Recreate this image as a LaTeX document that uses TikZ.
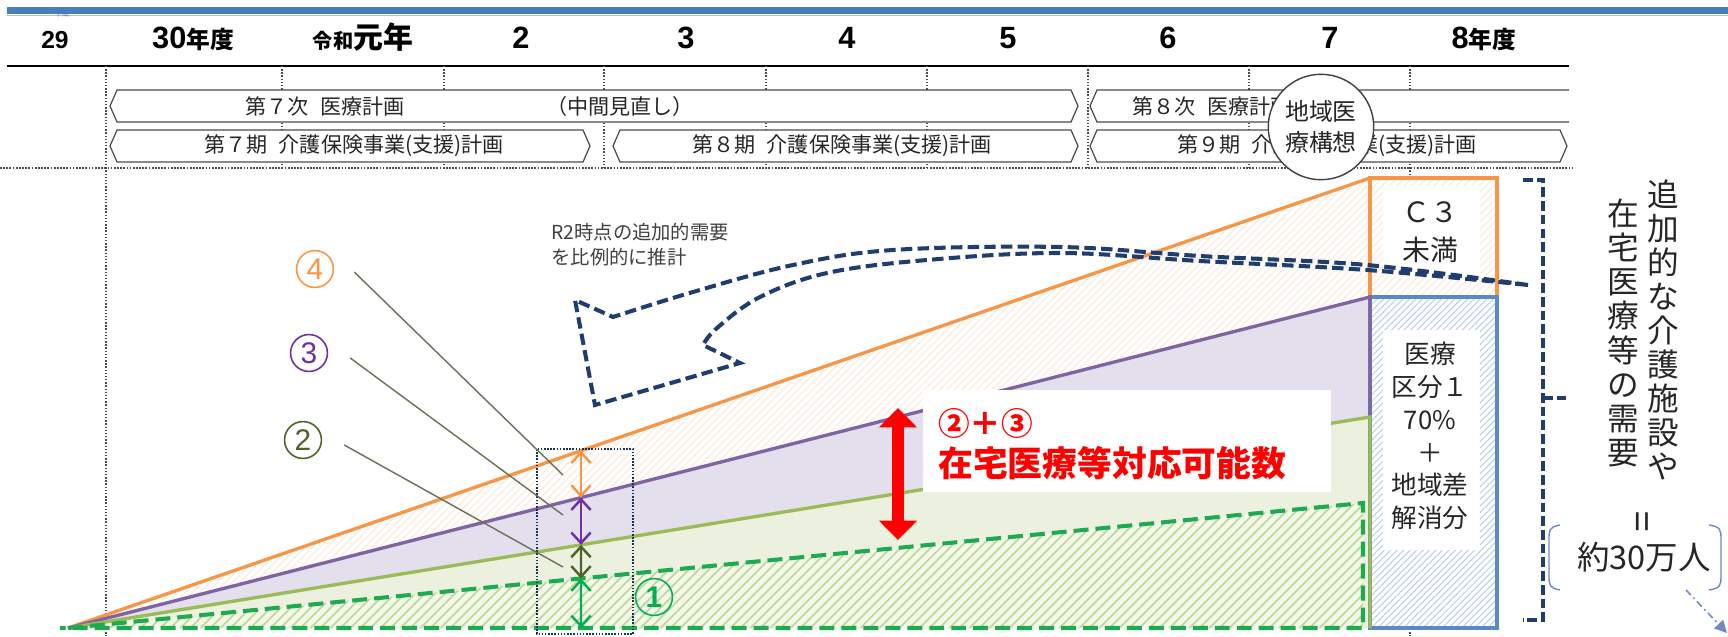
\documentclass[tikz,border=0pt]{standalone}
\usepackage{fontspec}
\setmainfont{Liberation Sans}
\newfontfamily\jp{Noto Sans CJK JP}
\usetikzlibrary{arrows.meta,patterns.meta,calc}
\definecolor{cOrange}{HTML}{F79646}
\definecolor{cPurple}{HTML}{8064A2}
\definecolor{cGreen}{HTML}{9BBB59}
\definecolor{cDash}{HTML}{1EAA50}
\definecolor{cNavy}{HTML}{1F3D6E}
\definecolor{cBlue}{HTML}{5A8AC6}
\definecolor{cBand}{HTML}{4A7EBB}
\definecolor{cBandL}{HTML}{A4C0E4}
\definecolor{cPeach}{HTML}{FBE6D6}
\definecolor{cLav}{HTML}{E4DFEC}
\definecolor{cLGreen}{HTML}{EBF1DE}
\definecolor{cDashBg}{HTML}{F3F8EB}
\definecolor{cHatchG}{HTML}{BFD797}
\definecolor{cHatchB}{HTML}{BCCFE8}
\definecolor{aPurple}{HTML}{7030A0}
\definecolor{aOlive}{HTML}{4F6228}
\definecolor{aGreen}{HTML}{00B050}
\definecolor{cLeader}{HTML}{6B7157}
\definecolor{cText}{HTML}{262626}
\definecolor{cBr}{HTML}{7088C4}
\newcommand{\fsz}[2]{\fontsize{#1}{#2}\selectfont}
\newcommand{\chevshape}[4]{\path[chevst] ({#1+7},#3) -- ({#2-7},#3) -- (#2,{(#3+#4)/2}) -- ({#2-7},#4) -- ({#1+7},#4) -- (#1,{(#3+#4)/2}) -- cycle;}
\newcommand{\gap}{\hspace{0.55em}}
\begin{document}
\begin{tikzpicture}[x=0.02cm,y=-0.02cm,
  yr/.style={anchor=base, inner sep=0, font=\bfseries\fsz{17.5}{20}},
  chevst/.style={draw=black!70, line width=0.7pt, fill=white},
  chevtext/.style={inner sep=0, font=\jp\fsz{12}{14}, text=cText},
  grid/.style={draw=black!70, line width=0.8pt, dash pattern=on 0.8pt off 1pt},
  chartline/.style={line width=1.9pt},
  boxtext/.style={inner sep=0, align=center, font=\jp\fsz{14.6}{18.7}, text=cText},
  numc/.style={circle, draw=#1, text=#1, line width=0.9pt, minimum size=21pt, inner sep=0, font=\fsz{17}{17}},
  leader/.style={draw=cLeader, line width=0.8pt},
  dblarrow/.style={line width=1.4pt, {Straight Barb[width=11pt,length=6pt]}-{Straight Barb[width=11pt,length=6pt]}},
  navydash/.style={draw=cNavy, line width=2.3pt, dash pattern=on 6.5pt off 3pt},
]
\useasboundingbox (0,0) rectangle (1728,636);
\fill[white] (0,0) rectangle (1728,636);

% top band
\fill[cBand] (7,7) rectangle (1728,13.5);
\draw[cBandL, line width=0.8pt] (7,15.5) -- (1728,15.5);
\node[inner sep=0, text=cBand, font=\jp\fsz{4}{4}] (heisei) at (62,14) {平成};

% year labels
\node[yr] (y29) at (55,48) {\fsz{14}{16}29};
\node[yr] (y30) at (193,48) {30{\jp\fsz{13.5}{16}年度}};
\node[yr] (yR1) at (363,48) {{\jp\fsz{11.5}{13}令和}{\jp\fsz{17}{20}元年}};
\node[yr] (y2) at (521,48) {2};
\node[yr] (y3) at (686,48) {3};
\node[yr] (y4) at (847,48) {4};
\node[yr] (y5) at (1008,48) {5};
\node[yr] (y6) at (1168,48) {6};
\node[yr] (y7) at (1330,48) {7};
\node[yr] (y8) at (1484,48) {8{\jp\fsz{13.5}{16}年度}};

\draw[line width=1.6pt] (7,66) -- (1569,66);

% grid
\foreach \gx in {282,444,604,766,927,1088,1249} \draw[grid] (\gx,66) -- (\gx,168);
\draw[grid] (106,66) -- (106,636);
\draw[grid] (1410,66) -- (1410,636);
\draw[grid, line width=1.1pt, dash pattern=on 1pt off 0.8pt] (0,168) -- (1572,168);

% plan chevrons
\chevshape{110}{1078}{90}{122}
\fill[white] (1097,90) -- (1569,90) -- (1569,122) -- (1097,122) -- (1090,106) -- cycle;
\draw[black!70, line width=0.7pt] (1569,90) -- (1097,90) -- (1090,106) -- (1097,122) -- (1569,122);
\chevshape{110}{590}{130}{162}
\chevshape{613}{1078}{130}{162}
\chevshape{1090}{1567}{130}{162}
\node[chevtext] (t7a) at (325,106) {第７次\gap 医療計画};
\node[chevtext] (t7b) at (620,106) {（中間見直し）};
\node[chevtext] (t8a) at (1212,106) {第８次\gap 医療計画};
\node[chevtext] (k7) at (354,146) {第７期\gap 介護保険事業(支援)計画};
\node[chevtext] (k8) at (842,146) {第８期\gap 介護保険事業(支援)計画};
\node[chevtext] (k9) at (1327,146) {第９期\gap 介護保険事業(支援)計画};
\node[circle, draw=black!75, line width=0.8pt, fill=white, minimum size=60pt, inner sep=0, align=center, font=\jp\fsz{13.6}{18}, text=cText] (kousou) at (1321,127) {地域医\\療構想};

% chart
\coordinate (O) at (68,628);
\coordinate (Otop) at (1370,178);
\coordinate (Pmid) at (1370,297);
\coordinate (Gmid) at (1370,417);
\coordinate (Bot) at (1370,628);
\coordinate (Dc) at (1363,503);
\coordinate (Db) at (1363,628);
\fill[white] (O) -- (Otop) -- (Bot) -- cycle;
\fill[pattern={Lines[angle=45,distance=3pt,line width=0.5pt]}, pattern color=cPeach] (O) -- (Otop) -- (Bot) -- cycle;
\fill[cLav] (O) -- (Pmid) -- (Bot) -- cycle;
\fill[cLGreen] (O) -- (Gmid) -- (Bot) -- cycle;
\fill[cDashBg] (O) -- (Dc) -- (Db) -- cycle;
\fill[pattern={Lines[angle=45,distance=4pt,line width=1.1pt]}, pattern color=cHatchG] (O) -- (Dc) -- (Db) -- cycle;

% right boxes
\fill[white] (1370,178) rectangle (1497,297);
\fill[pattern={Lines[angle=45,distance=3pt,line width=0.5pt]}, pattern color=cPeach] (1370,178) rectangle (1497,297);
\fill[white] (1383,186) rectangle (1480,276);
\fill[white] (1370,297) rectangle (1497,628);
\fill[pattern={Lines[angle=45,distance=2.6pt,line width=0.6pt]}, pattern color=cHatchB] (1370,297) rectangle (1497,628);
\fill[white] (1383,330) rectangle (1480,550);
\node[boxtext, font=\jp\fsz{15.9}{21.5}] (c3) at (1430,232) {Ｃ３\\未満};
\node[boxtext] (iryo) at (1430,436) {医療\\区分１\\70\%\\＋\\地域差\\解消分};

% lines
\draw[cOrange, chartline] (O) -- (Otop);
\draw[cOrange, line width=2.3pt] (1370,178) rectangle (1497,297);
\draw[cBlue, line width=2.3pt] (1370,297) rectangle (1497,628);
\draw[cPurple, chartline] (O) -- (Pmid) -- (Gmid);
\draw[cGreen, chartline] (O) -- (Gmid) -- (Bot);
\draw[cDash, line width=2.3pt, dash pattern=on 8.5pt off 4pt] (O) -- (Dc) -- (Db) -- (60,628);

% measuring box and arrows
\draw[draw=cNavy!80!black, line width=0.9pt, dash pattern=on 0.9pt off 0.9pt] (537,449) rectangle (633,634);
\coordinate (aO) at ($(O)!{513/1302}!(Otop)$);
\coordinate (aP) at ($(O)!{513/1302}!(Pmid)$);
\coordinate (aG) at ($(O)!{513/1302}!(Gmid)$);
\coordinate (aD) at ($(O)!{513/1295}!(Dc)$);
\coordinate (aB) at (581,628);
\draw[dblarrow, cOrange] (aO) -- (aP);
\draw[dblarrow, aPurple] (aP) -- (aG);
\draw[dblarrow, aOlive] (aG) -- (aD);
\draw[dblarrow, aGreen] (aD) -- (aB);

\node[numc=cOrange] (n4) at (315,269) {4};
\node[numc=aPurple] (n3) at (309,353) {3};
\node[numc=aOlive] (n2) at (303,440) {2};
\node[numc=aGreen, font=\bfseries\fsz{17}{17}] (n1) at (654,597) {1};
\coordinate (e4) at (563,475);
\coordinate (e3) at (563,515);
\coordinate (e2) at (563,567);
\draw[leader] (n4.east) ++(20,3) -- (e4);
\draw[leader] (n3.east) ++(22,5) -- (e3);
\draw[leader] (n2.east) ++(22,5) -- (e2);

% red arrow and label
\coordinate (rT) at (898,408);
\coordinate (rB) at (898,540);
\draw[red, line width=6.8pt, {Triangle[width=21pt,length=11pt]}-{Triangle[width=21pt,length=11pt]}] (rT) -- (rB);
\node[fill=white, minimum width=232pt, minimum height=58pt, inner sep=0] (rbox) at (1127,441) {};
\node[anchor=west, inner sep=0, text=red, font=\jp\bfseries\fsz{18}{20}] (r23) at (938,423) {②＋③};
\node[anchor=west, inner sep=0, text=red, font=\jp\bfseries\fsz{19.8}{22}] (rzt) at (938,463) {在宅医療等対応可能数};

% curved dashed arrow
\node[anchor=west, align=left, inner sep=0, text=black!75, font=\jp\fsz{11}{14.2}] (r2) at (551,245) {R2時点の追加的需要\\を比例的に推計};
\draw[navydash] plot[smooth, tension=0.6] coordinates {(1528,285) (1367,265) (1200,256) (1060,247) (893,250) (793,265) (693,292) (613,317)} -- (575,300) -- (595,405) -- (740,363) -- (703,345) -- plot[smooth, tension=0.6] coordinates {(703,345) (717,328) (760,297) (827,273) (927,260) (1060,253) (1200,261) (1367,270) (1528,285)};

% right bracket and text
\draw[navydash, dash pattern=on 5.5pt off 2.3pt] (1523,180) -- (1543,180) -- (1543,620) -- (1523,620);
\draw[navydash, dash pattern=on 5.5pt off 2.3pt] (1543,398) -- (1567,398);
\node[inner sep=0, align=center, font=\jp\fsz{18}{19.4}, text=cText] (vt1) at (1663,330) {追\\加\\的\\な\\介\\護\\施\\設\\や};
\node[inner sep=0, align=center, font=\jp\fsz{18}{19.4}, text=cText] (vt2) at (1623,333) {在\\宅\\医\\療\\等\\の\\需\\要};
\node[rotate=90, inner sep=0, font=\fsz{21}{21}, text=cText] (eq) at (1645,522) {=};
\node[inner sep=0, font=\jp\fsz{18.5}{20}, text=cText] (yaku) at (1644,557) {約30万人};
\draw[cBr, line width=0.8pt] (1560,525) .. controls (1549,527) and (1549,530) .. (1549,540) -- (1549,575) .. controls (1549,585) and (1549,588) .. (1560,590);
\draw[cBr, line width=0.8pt] (1709,525) .. controls (1721,527) and (1721,530) .. (1721,540) -- (1721,575) .. controls (1721,585) and (1721,588) .. (1709,590);
\coordinate (ddS) at (1686,590);
\coordinate (ddE) at (1727,633);
\draw[cBr, line width=0.9pt, dash pattern=on 4pt off 2pt on 1pt off 2pt, -{Triangle[width=7pt,length=7pt]}] (ddS) -- (ddE);
\end{tikzpicture}
\end{document}
